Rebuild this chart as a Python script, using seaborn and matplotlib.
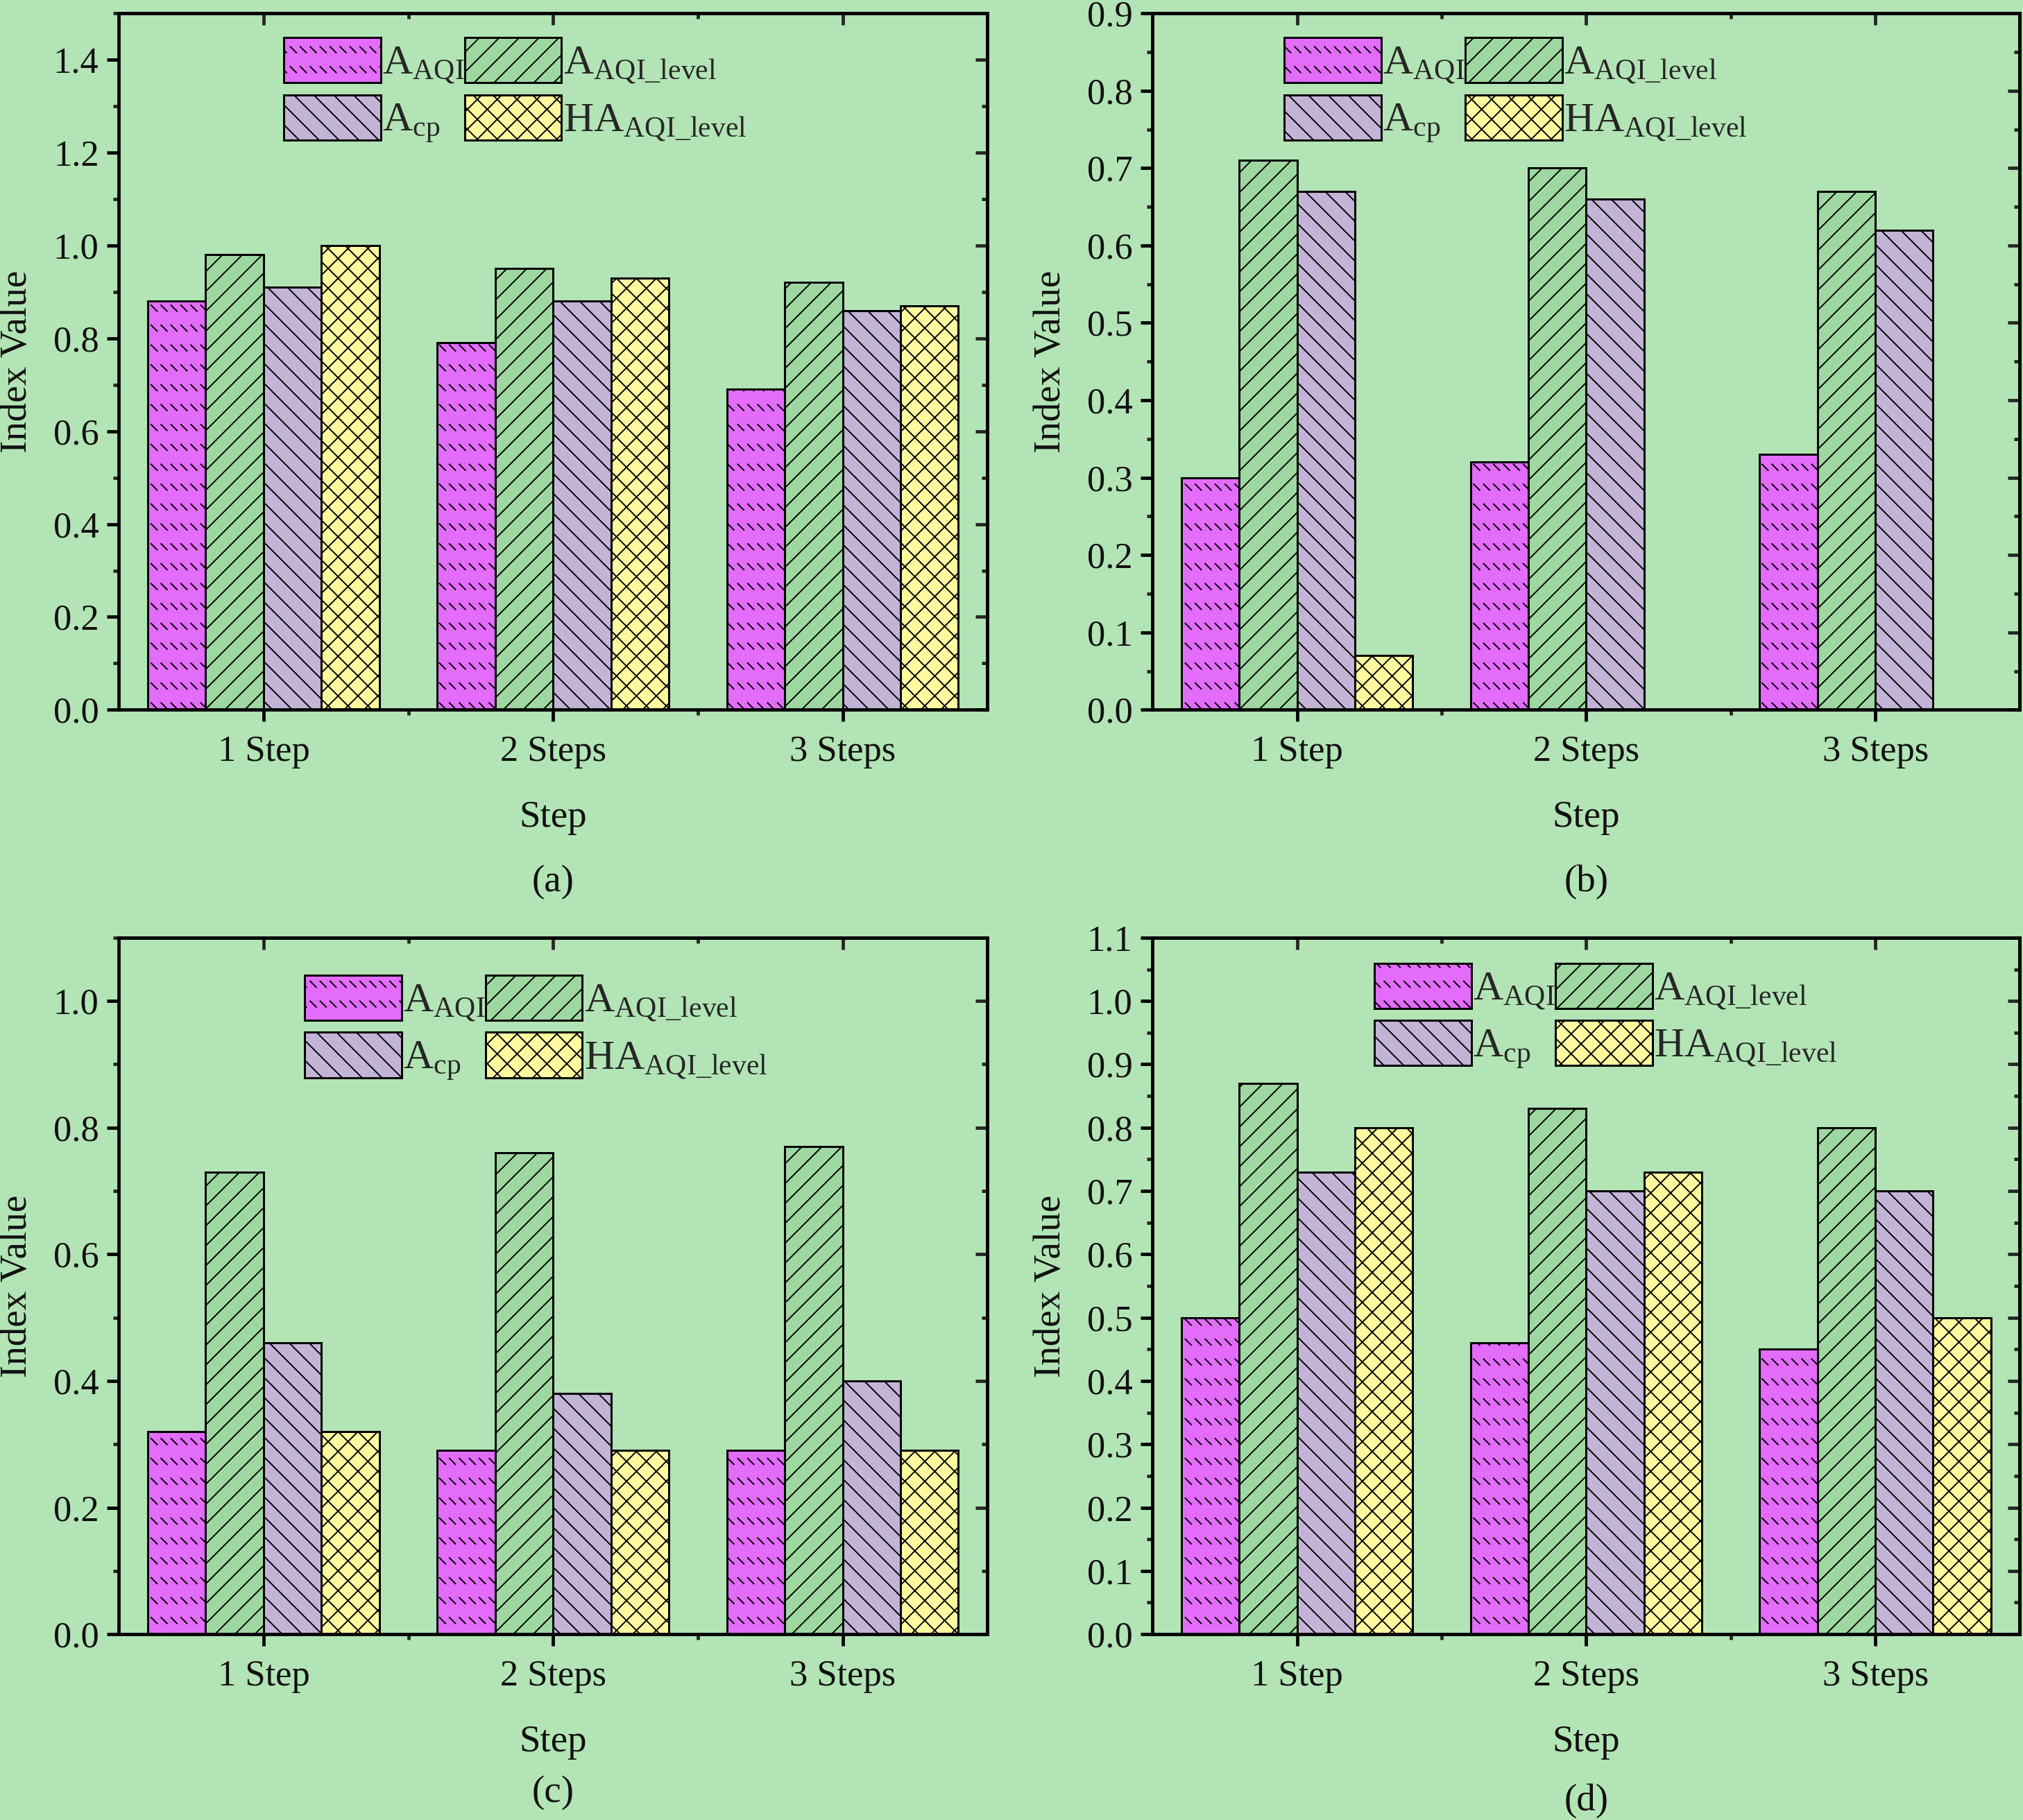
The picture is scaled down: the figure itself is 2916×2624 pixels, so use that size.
import numpy as np
import pandas as pd
import matplotlib
matplotlib.use("Agg")
import matplotlib.pyplot as plt
import matplotlib.hatch as mhatch
from matplotlib.ticker import MultipleLocator, FixedLocator, FormatStrFormatter
from matplotlib.patches import Patch
import seaborn as sns

# ---------------- data ----------------
steps = ["1 Step", "2 Steps", "3 Steps"]
series = ["A_AQI", "A_AQI_level", "A_cp", "HA_AQI_level"]
legend_labels = [r"A$_{\mathrm{AQI}}$", r"A$_{\mathrm{AQI\_level}}$",
                 r"A$_{\mathrm{cp}}$", r"HA$_{\mathrm{AQI\_level}}$"]

a_aqi = [0.88, 0.79, 0.69]
a_level = [0.98, 0.95, 0.92]
a_cp = [0.91, 0.88, 0.86]
a_ha = [1.00, 0.93, 0.87]

b_aqi = [0.30, 0.32, 0.33]
b_level = [0.71, 0.70, 0.67]
b_cp = [0.67, 0.66, 0.62]
b_ha = [0.07, np.nan, np.nan]

c_aqi = [0.32, 0.29, 0.29]
c_level = [0.73, 0.76, 0.77]
c_cp = [0.46, 0.38, 0.40]
c_ha = [0.32, 0.29, 0.29]

d_aqi = [0.50, 0.46, 0.45]
d_level = [0.87, 0.83, 0.80]
d_cp = [0.73, 0.70, 0.70]
d_ha = [0.80, 0.73, 0.50]

panel_tags = ["(a)", "(b)", "(c)", "(d)"]

# ---------------- style ----------------
BG = "#b3e4b5"
colors = ["#e36cfa", "#9ed8a0", "#c3b4d7", "#fffaa0"]
hatches = ["O", "/", "\\", "x"]   # "O" is remapped below to rows of short dashes


class DashRowHatch(mhatch.HatchPatternBase):
    """Rows of short backslash dashes (Origin-like pattern)."""
    def __init__(self, hatch, density):
        self.on = "O" in hatch
        self.rows = 3
        self.cols = 6
        self.num_vertices = 2 * self.rows * self.cols if self.on else 0

    def set_vertices_and_codes(self, vertices, codes):
        k = 0
        d = 0.05
        for r in range(self.rows):
            y0 = (r + 0.5) / self.rows
            for c in range(self.cols):
                x0 = (c + 0.5) / self.cols
                vertices[k] = (x0 - d, y0 + d)
                vertices[k + 1] = (x0 + d, y0 - d)
                codes[k] = matplotlib.path.Path.MOVETO
                codes[k + 1] = matplotlib.path.Path.LINETO
                k += 2


mhatch._hatch_types = [t for t in mhatch._hatch_types
                       if t is not mhatch.LargeCircles] + [DashRowHatch]

sns.set_style("ticks")
plt.rcParams["font.family"] = ["Liberation Serif", "DejaVu Serif"]
plt.rcParams["mathtext.fontset"] = "custom"
plt.rcParams["mathtext.rm"] = "Liberation Serif"
plt.rcParams["mathtext.it"] = "Liberation Serif:italic"
plt.rcParams["mathtext.bf"] = "Liberation Serif:bold"
plt.rcParams["hatch.linewidth"] = 1.6
plt.rcParams["axes.linewidth"] = 4.0

DPI = 86
fig = plt.figure(figsize=(2917 / DPI, 2624 / DPI), dpi=DPI, facecolor=BG)

rects = [
    [0.0587, 0.6100, 0.4292, 0.3827],
    [0.5695, 0.6100, 0.4286, 0.3827],
    [0.0587, 0.1021, 0.4292, 0.3827],
    [0.5695, 0.1021, 0.4286, 0.3827],
]
panel_data = [
    (a_aqi, a_level, a_cp, a_ha),
    (b_aqi, b_level, b_cp, b_ha),
    (c_aqi, c_level, c_cp, c_ha),
    (d_aqi, d_level, d_cp, d_ha),
]
ylims = [1.5, 0.9, 1.1, 1.1]
majors = [0.2, 0.1, 0.2, 0.1]
legend_pos = [(0.19, 0.965), (0.152, 0.965), (0.214, 0.946), (0.256, 0.963)]
tag_y = [-0.248, -0.248, -0.228, -0.240]

FS = 44
FS_LAB = 46
FS_LEG = 50
LW_TICK = 4.0

for i in range(4):
    ax = fig.add_axes(rects[i])
    ax.set_facecolor(BG)
    vals = panel_data[i]
    rows = []
    for s, v in zip(series, vals):
        for st, val in zip(steps, v):
            if not np.isnan(val):
                rows.append({"Step": st, "Series": s, "Value": val})
    df = pd.DataFrame(rows)
    sns.barplot(data=df, x="Step", y="Value", hue="Series", order=steps,
                hue_order=series, palette=colors, width=0.8, errorbar=None,
                edgecolor="black", linewidth=2.5, saturation=1, legend=False,
                ax=ax)
    for cont, h, col in zip(ax.containers, hatches, colors):
        for p in cont.patches:
            p.set_hatch(h)
            p.set_facecolor(col)
            p.set_edgecolor("black")

    ax.set_xlim(-0.5, 2.5)
    ax.set_ylim(0, ylims[i])
    ax.xaxis.set_major_locator(FixedLocator([0, 1, 2]))
    ax.xaxis.set_minor_locator(FixedLocator([0.5, 1.5]))
    ax.set_xticklabels(steps)
    ax.yaxis.set_major_locator(MultipleLocator(majors[i]))
    ax.yaxis.set_minor_locator(MultipleLocator(majors[i] / 2))
    ax.yaxis.set_major_formatter(FormatStrFormatter("%.1f"))
    ax.tick_params(which="major", direction="out", length=14, width=LW_TICK,
                   labelsize=FS, pad=10, colors="black", labelcolor="#111111")
    ax.tick_params(which="minor", direction="out", length=7, width=LW_TICK)
    ax.tick_params(axis="x", which="major", pad=17)
    for sp in ax.spines.values():
        sp.set_visible(True)
        sp.set_linewidth(4.0)
        sp.set_color("black")

    # mirrored axes with inward ticks
    sx = ax.secondary_xaxis("top")
    sx.xaxis.set_major_locator(FixedLocator([0, 1, 2]))
    sx.xaxis.set_minor_locator(FixedLocator([0.5, 1.5]))
    sx.tick_params(which="major", direction="in", length=14, width=LW_TICK,
                   labeltop=False)
    sx.tick_params(which="minor", direction="in", length=7, width=LW_TICK)
    sx.spines["top"].set_linewidth(4.0)
    sy = ax.secondary_yaxis("right")
    sy.yaxis.set_major_locator(MultipleLocator(majors[i]))
    sy.yaxis.set_minor_locator(MultipleLocator(majors[i] / 2))
    sy.tick_params(which="major", direction="in", length=14, width=LW_TICK,
                   labelright=False)
    sy.tick_params(which="minor", direction="in", length=7, width=LW_TICK)
    sy.spines["right"].set_linewidth(4.0)

    ax.set_xlabel("Step", fontsize=FS_LAB, color="#111111")
    ax.set_ylabel("Index Value", fontsize=FS_LAB, color="#111111")
    ax.xaxis.set_label_coords(0.5, -0.13)
    ax.yaxis.set_label_coords(-0.097, 0.5)
    ax.text(0.5, tag_y[i], panel_tags[i], transform=ax.transAxes,
            ha="center", va="center", fontsize=FS_LAB, color="#111111")

    handles = [Patch(facecolor=colors[k], edgecolor="black", hatch=hatches[k],
                     linewidth=2.5) for k in range(4)]
    order = [0, 2, 1, 3]
    ax.legend([handles[k] for k in order], [legend_labels[k] for k in order],
              ncol=2, loc="upper left", bbox_to_anchor=legend_pos[i],
              frameon=False, fontsize=FS_LEG, handlelength=2.34,
              handleheight=1.3, handletextpad=0.04, columnspacing=0.0,
              labelspacing=0.22, borderpad=0, borderaxespad=0)

fig.savefig("out.png", dpi=DPI, facecolor=BG)
